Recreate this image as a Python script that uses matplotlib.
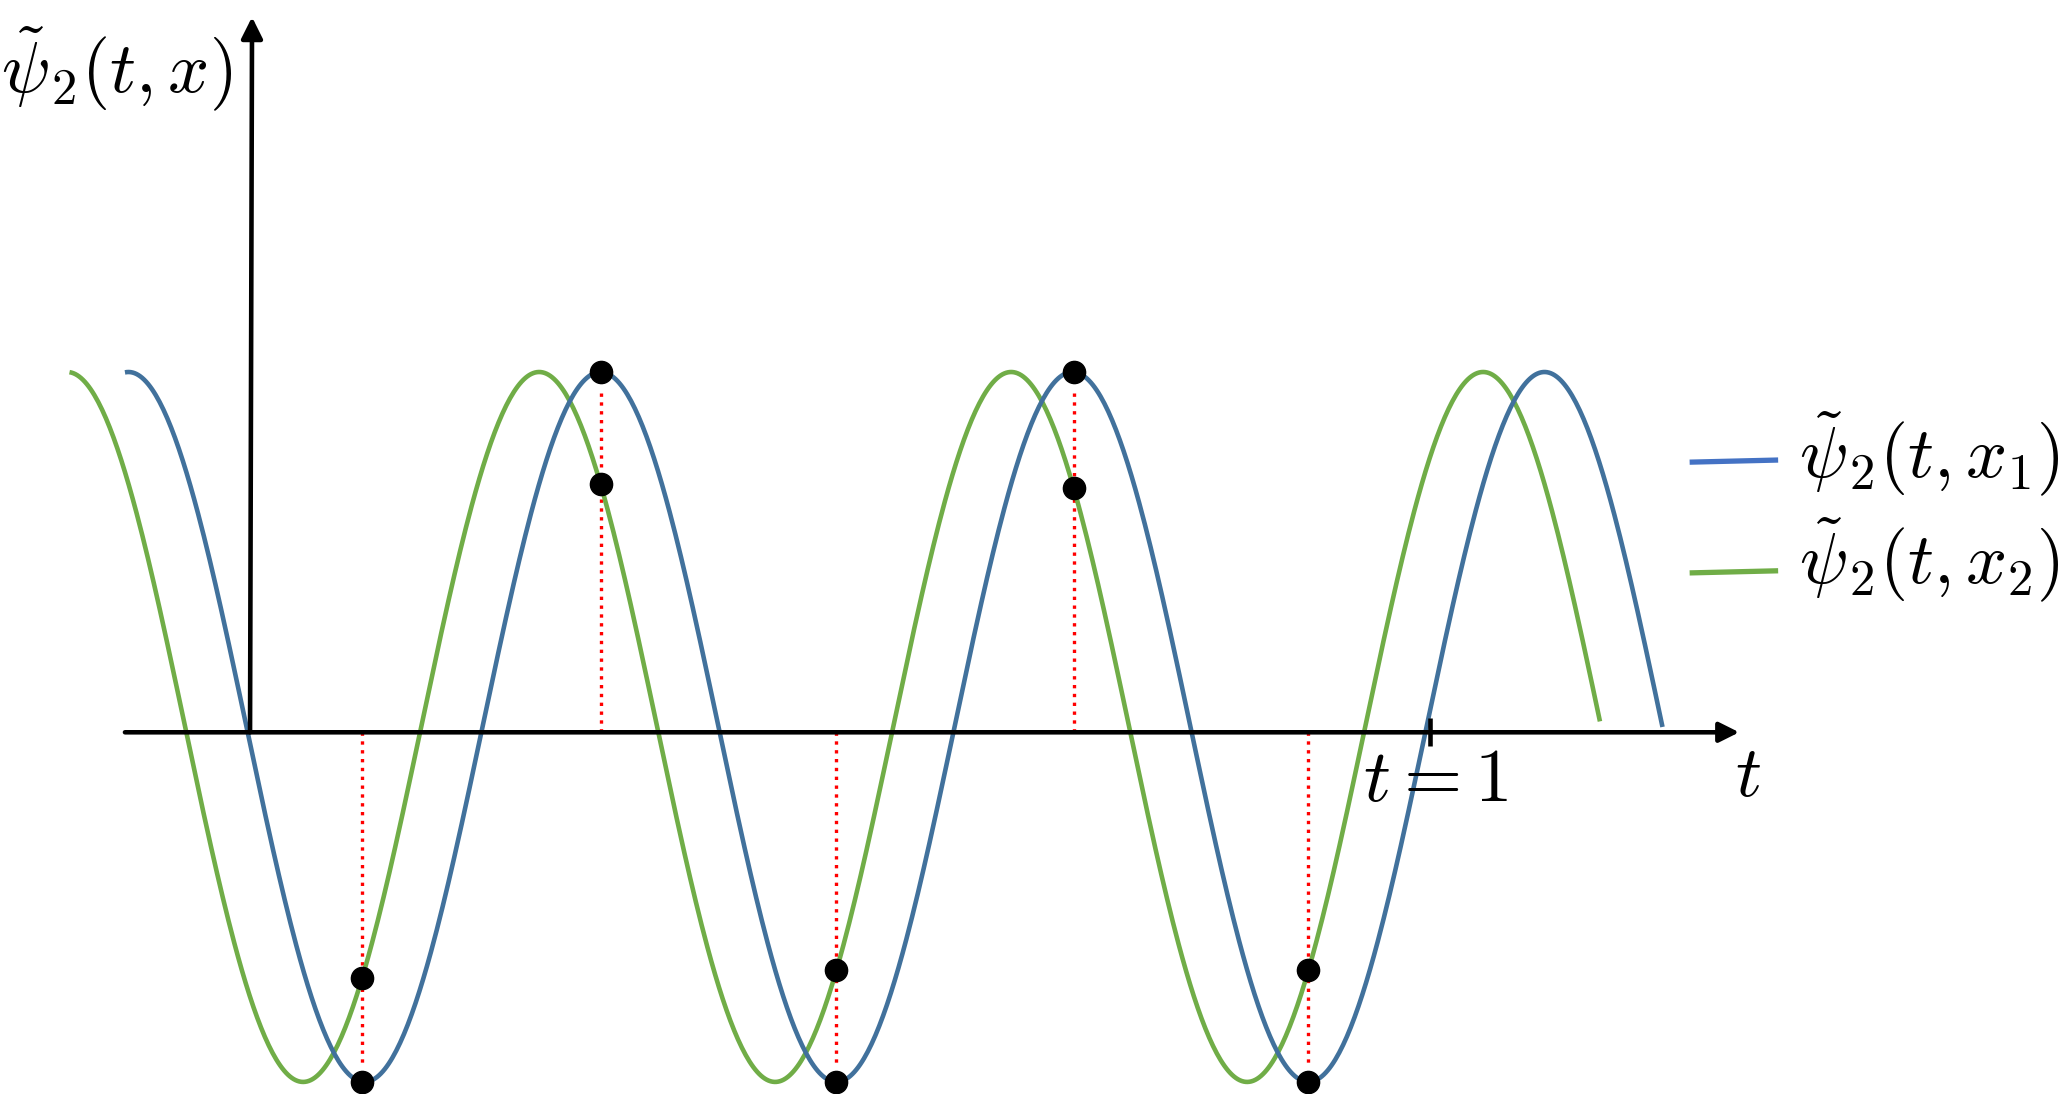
import numpy as np
import matplotlib
matplotlib.use("Agg")
import matplotlib.pyplot as plt

plt.rcParams['mathtext.fontset'] = 'cm'

# values (t in units where the tick "t = 1" sits at 1)
period = 0.4            # one full wave
phase_blue = -0.003     # small offset of the blue wave
shift_green = 0.052     # green runs ahead of blue by this much
amplitude = 1.0
t_blue = (-0.106, 1.197)
t_green = (-0.153, 1.144)
t_marks = [0.095, 0.297, 0.497, 0.698, 0.897]   # blue extrema with dots
axis_y = -0.015

labels = [r'$\tilde{\psi}_2(t,x_1)$', r'$\tilde{\psi}_2(t,x_2)$']
blue_c = '#41719c'
blue_leg = '#4472c4'
green_c = '#70ad47'


def wave(t, shift):
    return -amplitude * np.sin(2 * np.pi * (t - phase_blue + shift) / period)


fig = plt.figure(figsize=(20.67, 10.94), dpi=100)
ax = fig.add_axes([0, 0, 1, 1])
ax.set_xlim(-0.2119, 1.5398)
ax.set_ylim(-1.034, 2.048)
ax.axis('off')

tb = np.linspace(t_blue[0], t_blue[1], 800)
tg = np.linspace(t_green[0], t_green[1], 800)
ax.plot(tg, wave(tg, shift_green), color=green_c, lw=3.3, solid_capstyle='butt', zorder=3)
ax.plot(tb, wave(tb, 0), color=blue_c, lw=3.3, solid_capstyle='butt', zorder=3)

# axes with arrows
ax.annotate('', xy=(1.262, axis_y), xytext=(-0.106, axis_y),
            arrowprops=dict(arrowstyle='-|>', lw=3.3, color='k', mutation_scale=30,
                            shrinkA=0, shrinkB=0), zorder=4)
ax.annotate('', xy=(0.0017, 2.0), xytext=(0, axis_y),
            arrowprops=dict(arrowstyle='-|>', lw=3.3, color='k', mutation_scale=32,
                            shrinkA=0, shrinkB=0), zorder=4)
ax.plot([1.0, 1.0], [0.025, -0.054], color='k', lw=3.3, solid_capstyle='butt', zorder=4)

# dotted red drops and dots
for tm in t_marks:
    yb = wave(tm, 0)
    yg = wave(tm, shift_green)
    end = yb - 0.05 if yb > 0 else yb + 0.05
    ax.plot([tm, tm], [axis_y, end], color='red', lw=2.4, ls=':', zorder=2)
    ax.plot([tm, tm], [yb, yg], 'o', color='k', ms=16, zorder=5)

# text
ax.text(-0.015, 1.853, r'$\tilde{\psi}_2(t,x)$', fontsize=52, ha='right', va='center')
ax.text(1.269, -0.14, r'$t$', fontsize=52, ha='center', va='center')
ax.text(0.943, -0.15, r'$t=1$', fontsize=54, ha='left', va='center')

# legend drawn by hand
ax.plot([1.220, 1.295], [0.746, 0.752], color=blue_leg, lw=3.8, solid_capstyle='butt')
ax.plot([1.220, 1.295], [0.434, 0.440], color=green_c, lw=3.8, solid_capstyle='butt')
ax.text(1.313, 0.769, labels[0], fontsize=52, ha='left', va='center')
ax.text(1.313, 0.470, labels[1], fontsize=52, ha='left', va='center')

fig.savefig('out.png', dpi=100)
